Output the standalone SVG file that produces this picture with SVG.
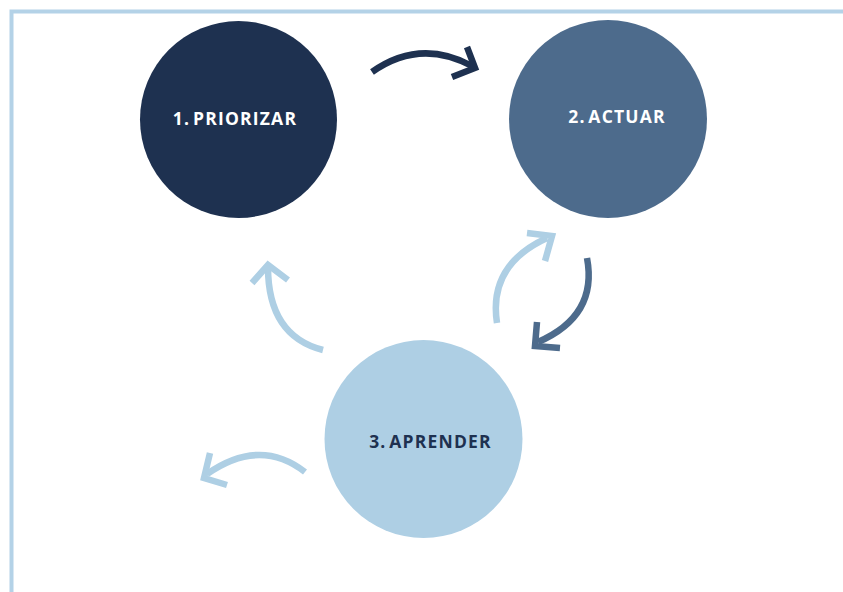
<svg xmlns="http://www.w3.org/2000/svg" width="843" height="592" viewBox="0 0 843 592">
<style>
.lbl{font-family:"Open Sans","DejaVu Sans",sans-serif;font-weight:bold;font-size:17.5px;letter-spacing:1.2px;word-spacing:-3px;text-anchor:middle}
.arr{fill:none;stroke-width:6.5;stroke-linecap:butt;stroke-linejoin:miter}
</style>
<rect width="843" height="592" fill="#ffffff"/>
<path d="M11.5,600 L11.5,11.5 L850,11.5" fill="none" stroke="#b4d2e7" stroke-width="4"/>
<g id="node1">
<circle cx="238.5" cy="119.5" r="98.5" fill="#1e3150"/>
<text class="lbl" x="235" y="124.5" fill="#ffffff">1. PRIORIZAR</text>
</g>
<g id="node2">
<circle cx="608" cy="119" r="99" fill="#4d6b8c"/>
<text class="lbl" x="617" y="122.5" fill="#ffffff">2. ACTUAR</text>
</g>
<g id="node3">
<circle cx="423.5" cy="439" r="99" fill="#aecfe4"/>
<text class="lbl" x="430.5" y="447.5" fill="#1e3150">3. APRENDER</text>
</g>
<g id="connectors">
<path class="arr" stroke="#1e3150" d="M372,72 Q420,38 472,66"/>
<polyline class="arr" stroke="#1e3150" points="467,47 475,68 452,77"/>
<path class="arr" stroke="#aecfe4" d="M497,323 Q488,265 547,238"/>
<polyline class="arr" stroke="#aecfe4" points="527,233 552,236 545,261"/>
<path class="arr" stroke="#4d6b8c" d="M587,258 Q598,316 538,342"/>
<polyline class="arr" stroke="#4d6b8c" points="537,322 535,346 560,348"/>
<path class="arr" stroke="#aecfe4" d="M323,350 Q268,336 268,267"/>
<polyline class="arr" stroke="#aecfe4" points="252,283 268,265 288,280"/>
<path class="arr" stroke="#aecfe4" d="M305,472 Q260,437 207,474"/>
<polyline class="arr" stroke="#aecfe4" points="210,453 204,478 227,485"/>
</g>
</svg>
